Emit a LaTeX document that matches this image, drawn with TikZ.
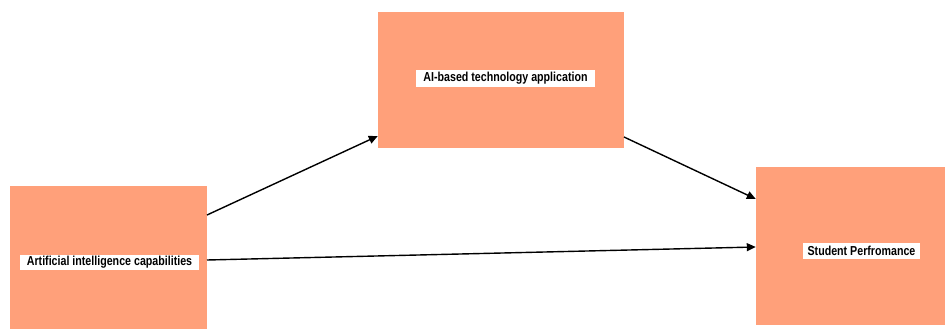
\documentclass[tikz,border=0pt]{standalone}
\usepackage{fontspec}
\setmainfont{Liberation Sans}[FakeStretch=0.82]
\usetikzlibrary{arrows.meta}
\definecolor{boxfill}{HTML}{FFA07A}
\tikzset{
  block/.style={rectangle, fill=boxfill, draw=none, inner sep=0pt},
  tag/.style={rectangle, fill=white, inner sep=0pt, font=\bfseries\fontsize{13}{15}\selectfont},
  link/.style={line width=1.4pt, -{Triangle[length=9pt,width=8pt]}}
}
\begin{document}
\begin{tikzpicture}[x=1pt,y=-1pt]
  \useasboundingbox (0,0) rectangle (945,329);
  % the three constructs
  \node[block, minimum width=197pt, minimum height=143pt] (aic) at (108.5,257.5) {};
  \node[block, minimum width=246pt, minimum height=136pt] (tech) at (501,80) {};
  \node[block, minimum width=190pt, minimum height=158pt] (perf) at (851,246) {};
  % captions on white strips
  \node[tag, minimum width=179pt, minimum height=15pt] (aicl) at (109.5,262) {Artificial intelligence capabilities};
  \node[tag, minimum width=179pt, minimum height=17pt] (techl) at (505.5,78.5) {AI-based technology application};
  \node[tag, minimum width=117pt, minimum height=16pt] (perfl) at (861.5,251) {Student Perfromance};
  % paths
  \coordinate (a1) at (207,215);
  \coordinate (a2) at (207,260);
  \coordinate (t1) at (624,137);
  \draw[link] (a1) -- (tech.south west |- 0,136);
  \draw[link] (t1) -- (perf.west |- 0,199);
  \draw[link] (a2) -- (perf.west |- 0,247);
\end{tikzpicture}
\end{document}
